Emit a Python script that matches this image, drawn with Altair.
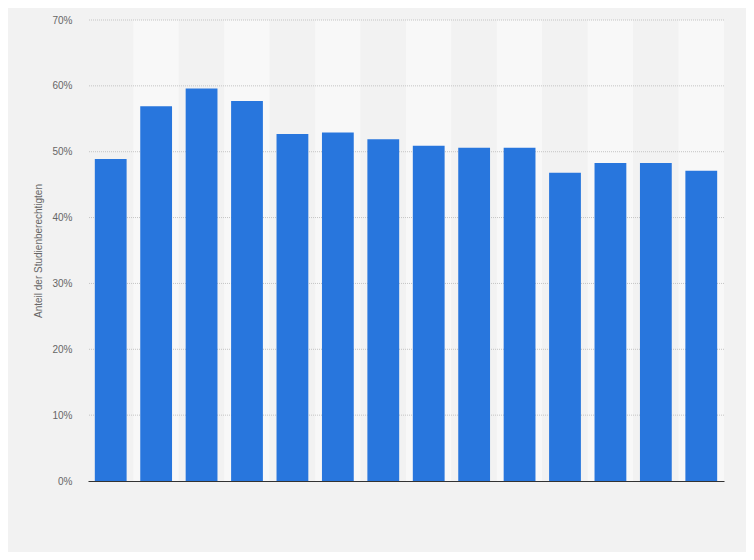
import altair as alt
import pandas as pd

categories = ["1", "2", "3", "4", "5", "6", "7", "8", "9", "10", "11", "12", "13", "14"]
values = [48.9, 56.9, 59.6, 57.7, 52.7, 52.9, 51.9, 50.9, 50.6, 50.6, 46.8, 48.3, 48.3, 47.1]
tick_values = [0, 0.1, 0.2, 0.3, 0.4, 0.5, 0.6, 0.7]

df = pd.DataFrame({"cat": categories, "val": [v / 100 for v in values], "idx": list(range(len(categories)))})
grid_df = pd.DataFrame({"g": tick_values[1:]})

yscale = alt.Scale(domain=[0, 0.7], nice=False)
yaxis = alt.Axis(format=".0%", values=tick_values,
                 title="Anteil der Studienberechtigten",
                 titleFontSize=10, titleColor="#666666", titleFontWeight="normal",
                 titleFont="Liberation Sans", titlePadding=8,
                 labelFont="Liberation Sans", labelFontSize=10, labelColor="#666666",
                 labelPadding=16, ticks=False, domain=False, grid=False)

xenc = alt.X("cat:N", sort=categories,
             scale=alt.Scale(paddingInner=0.3, paddingOuter=0.15),
             axis=alt.Axis(labels=False, ticks=False, title=None, domain=True,
                           domainColor="#333333", domainWidth=1, grid=False))

bands = alt.Chart(df).transform_calculate(
    par="datum.idx % 2", top="0.7"
).mark_bar(width={"band": 1.43}).encode(
    x=xenc,
    y=alt.Y("top:Q", scale=yscale, axis=yaxis),
    color=alt.condition("datum.par == 1", alt.value("#f8f8f8"), alt.value("#f2f2f2")),
)

grid = alt.Chart(grid_df).mark_rule(color="#c4c4c4", strokeDash=[1, 1], strokeWidth=1).encode(
    y=alt.Y("g:Q", scale=yscale, axis=yaxis),
)

bars = alt.Chart(df).mark_bar(color="#2876dd").encode(
    x=xenc,
    y=alt.Y("val:Q", scale=yscale, axis=yaxis),
    tooltip=["cat", "val"],
)

chart = alt.layer(bands, grid, bars).properties(
    width=636, height=461,
    autosize=alt.AutoSizeParams(type="none"),
    padding={"left": 80, "top": 12, "right": 22, "bottom": 71},
    background="#f2f2f2",
).configure_view(stroke=None)

chart.save("out.html", embed_options={"renderer": "svg", "actions": False})
